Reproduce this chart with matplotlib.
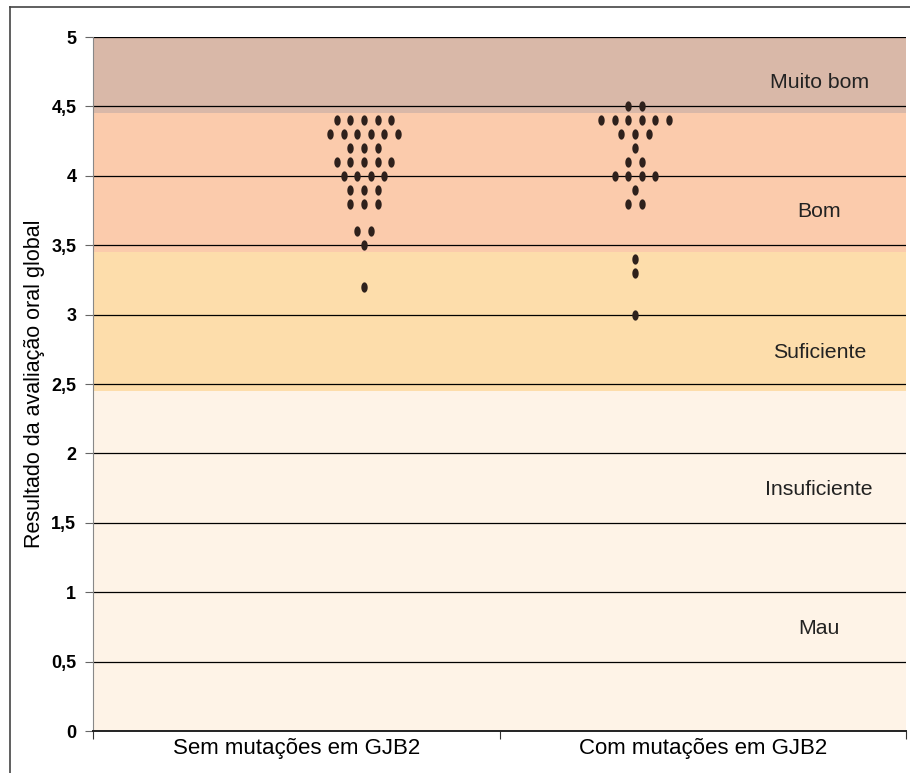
import numpy as np
import matplotlib.pyplot as plt
from matplotlib.lines import Line2D

plt.rcParams['font.family'] = ['Liberation Sans', 'DejaVu Sans']

# grupos e notas (valor, n.º de alunos com essa nota)
groups = ["Sem mutações em GJB2", "Com mutações em GJB2"]
sem_values = [4.4, 4.3, 4.2, 4.1, 4.0, 3.9, 3.8, 3.6, 3.5, 3.2]
sem_counts = [5, 6, 3, 5, 4, 3, 3, 2, 1, 1]
com_values = [4.5, 4.4, 4.3, 4.2, 4.1, 4.0, 3.9, 3.8, 3.4, 3.3, 3.0]
com_counts = [2, 6, 3, 1, 2, 4, 1, 2, 1, 1, 1]

# faixas de classificação
band_names = ["Mau", "Insuficiente", "Suficiente", "Bom", "Muito bom"]
band_label_y = [0.74, 1.74, 2.73, 3.74, 4.67]
band_colors = ["#FEF3E7", "#FDDDAB", "#FBCBAC", "#D9B8A8"]

yticks = [0, 0.5, 1, 1.5, 2, 2.5, 3, 3.5, 4, 4.5, 5]
ytick_labels = ["0", "0,5", "1", "1,5", "2", "2,5", "3", "3,5", "4", "4,5", "5"]

fig = plt.figure(figsize=(9.1, 7.73), dpi=100)
ax = fig.add_axes([93 / 910, 1 - 731 / 773, 813 / 910, 694 / 773])

# fundos
ax.axhspan(0, 2.45, color=band_colors[0], lw=0, zorder=0)
ax.axhspan(2.45, 3.45, color=band_colors[1], lw=0, zorder=0)
ax.axhspan(3.45, 4.45, color=band_colors[2], lw=0, zorder=0)
ax.axhspan(4.45, 5.0, color=band_colors[3], lw=0, zorder=0)

for y in yticks[1:]:
    ax.axhline(y, color="black", lw=0.9, zorder=1)

# pontos tipo "beeswarm"
t = np.linspace(0, 2 * np.pi, 30)
ell = list(zip(0.62 * np.cos(t), np.sin(t)))
step = 0.05
for xc, vals, cnts in [(1, sem_values, sem_counts), (2, com_values, com_counts)]:
    xs, ys = [], []
    for v, n in zip(vals, cnts):
        for i in range(n):
            xs.append(xc + (i - (n - 1) / 2) * step)
            ys.append(v)
    ax.scatter(xs, ys, marker=ell, s=55, color="#2E211C", lw=0, zorder=3)

for name, y in zip(band_names, band_label_y):
    ax.text(2.68, y, name, ha="center", va="center", fontsize=15.3, color="#222222")

ax.set_xlim(0, 3)
ax.set_ylim(0, 5)
ax.set_yticks(yticks)
ax.set_yticklabels(ytick_labels, fontsize=13, fontweight="bold")
ax.set_xticks([0, 1.5, 3])
ax.set_xticklabels([])
ax.set_xticks([0.75, 2.25], minor=True)
ax.set_xticklabels(groups, minor=True, fontsize=16)
ax.tick_params(axis="x", which="minor", length=0, pad=5)
ax.tick_params(axis="x", which="major", length=6, direction="out", color="#333333")
ax.tick_params(axis="y", length=6, direction="out", pad=6, color="#666666")
ax.set_ylabel("Resultado da avaliação oral global", fontsize=15.5)
ax.yaxis.set_label_coords(-0.059, 0.5)

for s in ["top", "right"]:
    ax.spines[s].set_visible(False)
ax.spines["left"].set_color("#888888")
ax.spines["bottom"].set_color("#222222")
ax.spines["bottom"].set_linewidth(1.4)

# moldura exterior
fig.add_artist(Line2D([10 / 910, 10 / 910], [0, 1 - 7 / 773], color="#444444", lw=1.2))
fig.add_artist(Line2D([10 / 910, 1], [1 - 7 / 773, 1 - 7 / 773], color="#444444", lw=1.2))

plt.savefig("out.png", dpi=100)
